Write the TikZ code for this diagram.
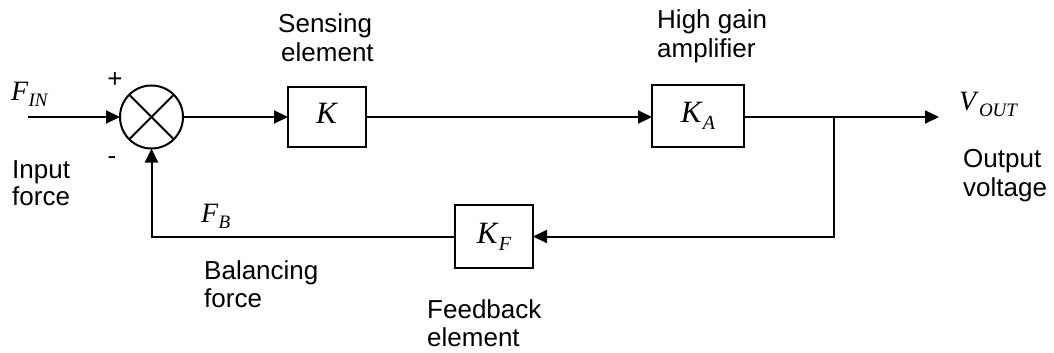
\documentclass[tikz,border=0pt]{standalone}
\usepackage{fontspec}
\setmainfont{Liberation Serif}
\newfontfamily\labfont{Liberation Sans}
\usetikzlibrary{arrows.meta}
\newcommand{\sig}[2]{{\fontsize{28}{30}\selectfont\textit{#1}\raisebox{-0.22em}{\fontsize{19}{20}\selectfont\textit{#2}}}}
\newcommand{\gain}[2]{{\fontsize{31}{32}\selectfont\textit{#1}\raisebox{-0.22em}{\fontsize{20}{20}\selectfont\textit{#2}}}}
\begin{document}
\begin{tikzpicture}[x=1pt,y=-1pt,
  wire/.style={line width=2pt},
  arr/.style={wire,-{Triangle[length=14pt,width=13pt]}},
  blk/.style={draw,line width=1.8pt,inner sep=0pt,outer sep=0pt},
  sumj/.style={draw,circle,line width=2pt,minimum size=63pt,inner sep=0pt,outer sep=0pt},
  lab/.style={font=\labfont\fontsize{26}{28}\selectfont,inner sep=0pt,anchor=base west},
  sg/.style={inner sep=0pt,anchor=base west}]
\useasboundingbox (0,0) rectangle (1054,353);
\node[sumj] (s) at (151.5,117) {};
\draw[line width=1.8pt] (s.45) -- (s.225) (s.135) -- (s.315);
\node[blk,minimum width=78pt,minimum height=60pt] (k) at (327,117) {\gain{K}{}};
\node[blk,minimum width=92pt,minimum height=62pt] (ka) at (698,116) {\gain{K}{A}};
\node[blk,minimum width=78pt,minimum height=63pt] (kf) at (494,236.5) {\gain{K}{F}};
\coordinate (in) at (28,117);
\coordinate (out) at (939,117);
\coordinate (br) at (834,117);
\draw[arr] (in) -- (s.west);
\draw[arr] (s.east) -- (k.west);
\draw[arr] (k.east) -- (ka.west |- k.east);
\draw[arr] (ka.east |- k.east) -- (out);
\draw[arr] (br) |- (kf.east);
\draw[arr] (kf.west) -| (s.south);
\node[sg] (fin) at (11,100) {\sig{F}{IN}};
\node[sg] (vout) at (959,110) {\sig{V}{OUT}};
\node[sg] (fb) at (201,222) {\sig{F}{B}};
\node[font=\labfont\fontsize{26}{26}\selectfont] (plus) at (115,80) {+};
\node[font=\labfont\fontsize{26}{26}\selectfont] (minus) at (112,161) {-};
\node[lab] (inl1) at (12,178) {Input};
\node[lab] (inl2) at (12,205) {force};
\node[lab] (sens1) at (278,33) {Sensing};
\node[lab] (sens2) at (281,62) {element};
\node[lab] (amp1) at (657,29) {High gain};
\node[lab] (amp2) at (657,57) {amplifier};
\node[lab] (outl1) at (963,167) {Output};
\node[lab] (outl2) at (963,196) {voltage};
\node[lab] (bal1) at (204,279) {Balancing};
\node[lab] (bal2) at (204,307) {force};
\node[lab] (fbl1) at (427,318) {Feedback};
\node[lab] (fbl2) at (427,346) {element};
\end{tikzpicture}
\end{document}
